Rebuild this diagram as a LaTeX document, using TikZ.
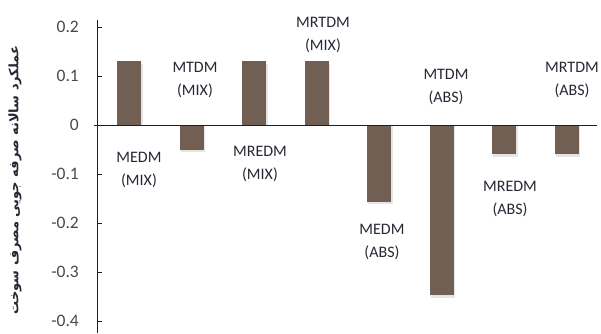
\documentclass[tikz,border=0pt]{standalone}
\usepackage{fontspec}
\setmainfont{Carlito}
\newfontfamily\arabicfont[Script=Arabic]{DejaVu Sans}
\TeXXeTstate=1
\definecolor{barc}{RGB}{114,95,84}
\definecolor{txt}{RGB}{38,40,52}
\definecolor{axc}{RGB}{30,30,30}
\begin{document}
\begin{tikzpicture}[x=1pt,y=-1pt,
  barbox/.style={fill=barc,draw=none},
  shadowbox/.style={fill=black!20,opacity=0.5,draw=none},
  lbl/.style={font=\fontsize{16}{23}\selectfont,text=txt,align=center,inner sep=0pt},
  ticklbl/.style={font=\fontsize{17.5}{18}\selectfont,text=txt!85,anchor=east,inner sep=0pt},
  axisline/.style={draw=axc,line width=0.9pt},
  tickmark/.style={draw=axc,line width=0.8pt}]
\useasboundingbox[fill=white] (0,0) rectangle (601,333);
% bars: center x, value
\foreach \cx/\v [count=\i] in {129/0.13,191.5/-0.05,254/0.13,316.5/0.13,379/-0.157,441.5/-0.347,504/-0.06,566.5/-0.06}{
  \pgfmathsetmacro{\yy}{125-490*\v}
  \fill[shadowbox] (\cx-11,125) rectangle (\cx+13.5,\yy+2.5);
  \fill[barbox] (\cx-12,125) rectangle (\cx+12,\yy);
}
% axes
\coordinate (atop) at (97.5,20);
\coordinate (abot) at (97.5,333);
\coordinate (zl) at (94,125);
\coordinate (zr) at (597,125);
\draw[axisline] (atop) -- (abot);
\draw[axisline] (zl) -- (zr);
\foreach \v/\t in {0.2/0.2,0.1/0.1,0/0,-0.1/-0.1,-0.2/-0.2,-0.3/-0.3,-0.4/-0.4}{
  \pgfmathsetmacro{\yy}{125-490*\v}
  \draw[tickmark] (97.5,\yy) -- (101.5,\yy);
  \node[ticklbl] (t\t) at (79,\yy) {\t};
}
% bar labels
\node[lbl] (l1) at (139,170) {MEDM\\(MIX)};
\node[lbl] (l2) at (195,80) {MTDM\\(MIX)};
\node[lbl] (l3) at (260,163.5) {MREDM\\(MIX)};
\node[lbl] (l4) at (323,35) {MRTDM\\(MIX)};
\node[lbl] (l5) at (382,241.5) {MEDM\\(ABS)};
\node[lbl] (l6) at (446,87) {MTDM\\(ABS)};
\node[lbl] (l7) at (510,199) {MREDM\\(ABS)};
\node[lbl] (l8) at (572,80) {MRTDM\\(ABS)};
% y-axis title
\node[rotate=90,text=txt,inner sep=0pt,font=\arabicfont\bfseries\fontsize{13}{14}\selectfont] (ytitle) at (15,180) {\beginR عملکرد سالانه صرفه جویی مصرف سوخت\endR};
\end{tikzpicture}
\end{document}
